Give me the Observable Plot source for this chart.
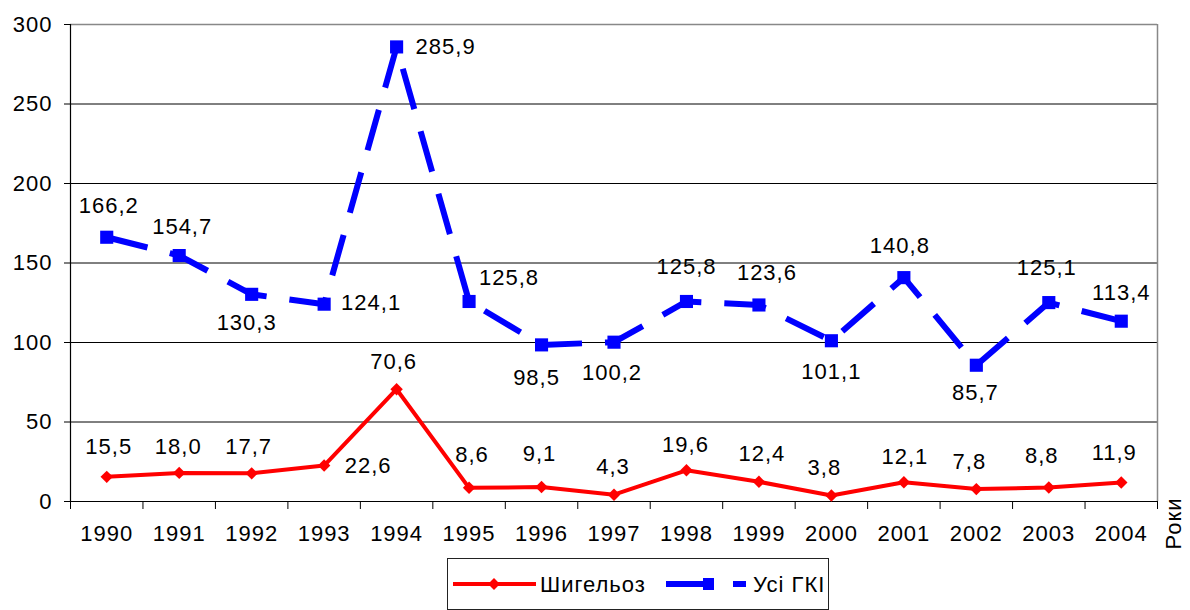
<!DOCTYPE html>
<html>
<head>
<meta charset="utf-8">
<script src="https://cdn.jsdelivr.net/npm/d3@7"></script>
<script src="https://cdn.jsdelivr.net/npm/@observablehq/plot@0.6"></script>
<style>
  html, body { margin: 0; padding: 0; background: #fff; }
  #wrap { position: relative; width: 1190px; height: 610px; overflow: hidden; font-family: Arial, "Liberation Sans", sans-serif; }
  #legend { position: absolute; left: 447px; top: 558px; width: 380px; height: 50px; border: 1px solid #222; background: #fff; }
</style>
</head>
<body>
<div id="wrap">
  <div id="chart"></div>
  <div id="legend"></div>
</div>
<script>
// ---- data ----
const years = ["1990","1991","1992","1993","1994","1995","1996","1997","1998","1999","2000","2001","2002","2003","2004"];
const shigellosis = [15.5, 18.0, 17.7, 22.6, 70.6, 8.6, 9.1, 4.3, 19.6, 12.4, 3.8, 12.1, 7.8, 8.8, 11.9];
const allGKI = [166.2, 154.7, 130.3, 124.1, 285.9, 125.8, 98.5, 100.2, 125.8, 123.6, 101.1, 140.8, 85.7, 125.1, 113.4];
const yTicks = [0, 50, 100, 150, 200, 250, 300];
const seriesNames = ["Шигельоз", "Усі ГКІ"];
const xAxisTitle = "Роки";

// ---- label placement (pixel offsets from each point) ----
const redLabelDx = [2, -1, -3, 44, -3, 3, -2, -1, -1, 3, -7, 1, -7, -7, -7];
const redLabelDy = [-30, -26, -26, 0, -27, -33, -33, -28, -25, -28, -28, -25, -27, -32, -30];
const blueLabelDx = [2, 3, -5, 47, 49, 40, -5, -2, 0, 8, 0, -4, -1, -2, 0];
const blueLabelDy = [-31, -29, 29, -1, 0, -24, 33, 31, -35, -32, 31, -32, 28, -35, -28];

const RED = "#ff0000";
const BLUE = "#0000ff";
const fmt = v => v.toFixed(1).replace(".", ",");

const red = shigellosis.map((v, i) => ({x: i + 0.5, y: v, label: fmt(v)}));
const blue = allGKI.map((v, i) => ({x: i + 0.5, y: v, label: fmt(v)}));

const labelMarks = [];
red.forEach((d, i) => labelMarks.push(Plot.text([d], {x: "x", y: "y", text: "label", dx: redLabelDx[i], dy: redLabelDy[i], fill: "#000"})));
blue.forEach((d, i) => labelMarks.push(Plot.text([d], {x: "x", y: "y", text: "label", dx: blueLabelDx[i], dy: blueLabelDy[i], fill: "#000"})));

const chart = Plot.plot({
  width: 1190,
  height: 556,
  marginLeft: 70,
  marginRight: 33,
  marginTop: 24,
  marginBottom: 55,
  style: {fontSize: "22px", fontFamily: "Arial, 'Liberation Sans', sans-serif", color: "#000", background: "#fff", overflow: "visible", letterSpacing: "1px"},
  x: {domain: [0, years.length]},
  y: {domain: [0, 300]},
  marks: [
    Plot.ruleY(yTicks.filter(t => t > 0 && t < 300), {stroke: "#000", strokeWidth: 1}),
    Plot.ruleY([300], {stroke: "#888", strokeWidth: 1.5}),
    Plot.ruleX([years.length], {stroke: "#888", strokeWidth: 1.5}),
    Plot.ruleX([0], {stroke: "#000", strokeWidth: 1.2}),
    Plot.ruleY([0], {stroke: "#000", strokeWidth: 1.2}),
    Plot.axisY({ticks: yTicks, tickSize: 6, tickPadding: 12, label: null, tickFormat: d => String(d)}),
    Plot.axisX({ticks: d3.range(0, years.length + 1), tickSize: 8, tickFormat: () => "", label: null}),
    Plot.axisX({ticks: years.map((_, i) => i + 0.5), tickSize: 0, tickPadding: 24, label: null, tickFormat: d => years[Math.floor(d)]}),
    Plot.line(red, {x: "x", y: "y", stroke: RED, strokeWidth: 4}),
    Plot.dot(red, {x: "x", y: "y", symbol: "diamond2", r: 5.6, fill: RED, stroke: "none"}),
    Plot.line(blue, {x: "x", y: "y", stroke: BLUE, strokeWidth: 6, strokeDasharray: "42,23", strokeLinecap: "butt", strokeLinejoin: "miter"}),
    Plot.dot(blue, {x: "x", y: "y", symbol: "square", r: 7.4, fill: BLUE, stroke: "none"}),
    ...labelMarks,
    Plot.text([xAxisTitle], {frameAnchor: "bottom-right", dx: 23, dy: 22, rotate: -90, textAnchor: "middle", fill: "#000"})
  ]
});
document.getElementById("chart").appendChild(chart);

// ---- legend ----
const lg = d3.select("#legend").append("svg").attr("width", 380).attr("height", 50)
  .style("font-family", "Arial, 'Liberation Sans', sans-serif").style("font-size", "22px").style("letter-spacing", "1px");
lg.append("line").attr("x1", 5).attr("x2", 88).attr("y1", 25).attr("y2", 25).attr("stroke", RED).attr("stroke-width", 4);
lg.append("path").attr("d", d3.symbol(d3.symbolDiamond2, 90)()).attr("transform", "translate(46,25)").attr("fill", RED);
lg.append("text").attr("x", 92).attr("y", 33).text(seriesNames[0]);
lg.append("line").attr("x1", 218).attr("x2", 298).attr("y1", 25).attr("y2", 25).attr("stroke", BLUE).attr("stroke-width", 6).attr("stroke-dasharray", "47,20");
lg.append("rect").attr("x", 255).attr("y", 19).attr("width", 11).attr("height", 12).attr("fill", BLUE);
lg.append("text").attr("x", 305).attr("y", 33).text(seriesNames[1]);
</script>
</body>
</html>
